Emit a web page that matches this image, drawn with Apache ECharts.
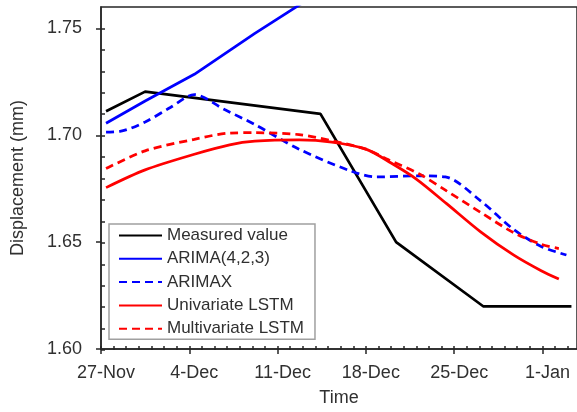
<!DOCTYPE html>
<html><head><meta charset="utf-8">
<script src="https://cdn.jsdelivr.net/npm/echarts@6/dist/echarts.min.js"></script>
<style>html,body{margin:0;padding:0;background:#fff}#c{width:577px;height:412px}</style>
</head><body><div id="c"></div>
<script>
// x = days since 27-Nov
const tickLabels = ["27-Nov","4-Dec","11-Dec","18-Dec","25-Dec","1-Jan"];
const majorDays = [0,7,14,21,28,35];
const minorDays = [0,1,2,3,4,5,6,7,8,9,10,11,12,13,14,15,16,17,18,19,20,21,22,23,24,25,26,27,28,29,30,31,32,33,34,35,36,37];
const yMajor = [1.60,1.65,1.70,1.75];
const yMinor = [1.60,1.61,1.62,1.63,1.64,1.65,1.66,1.67,1.68,1.69,1.70,1.71,1.72,1.73,1.74,1.75];
const seriesNames = ["Measured value","ARIMA(4,2,3)","ARIMAX","Univariate LSTM","Multivariate LSTM"];

const measured = [[0.4,1.7112],[3.5,1.7204],[17.4,1.7100],[23.4,1.6500],[30.3,1.6200],[37.3,1.6200]];
const arima = [[0.4,1.7056],[3.5,1.7160],[7.4,1.7285],[12.2,1.7477],[16,1.7620],[20,1.7760],[25,1.7900],[30,1.8000],[37,1.8100]];
const arimax = [[0.4,1.7015],[1.5,1.7018],[3.5,1.7062],[5.5,1.7130],[7.4,1.7190],[9.8,1.7120],[12.2,1.7050],[15.7,1.6935],[19.7,1.6835],[21.8,1.6805],[25.2,1.6810],[27.3,1.6805],[30.1,1.6693],[32.7,1.6560],[34.9,1.6480],[36.9,1.6440]];
const uniLstm = [[0.4,1.6755],[3.5,1.6838],[7.4,1.6911],[10.2,1.6955],[12.2,1.6972],[15.7,1.6978],[18.3,1.6968],[21.0,1.6935],[23.0,1.6870],[25.0,1.6795],[27.4,1.6680],[30.1,1.6548],[32.7,1.6440],[34.9,1.6366],[36.3,1.6327]];
const multiLstm = [[0.4,1.6844],[3.5,1.6927],[7.4,1.6981],[10.2,1.7010],[12.2,1.7012],[15.7,1.7003],[18.3,1.6974],[21.0,1.6935],[22.8,1.6885],[25.2,1.6820],[27.4,1.6740],[30.1,1.6639],[32.7,1.6545],[34.9,1.6490],[36.3,1.6470]];

const font = "'Liberation Sans', Arial, sans-serif";
const axisColor = '#262626';
const textColor = '#303030';
const gridRect = {left:101, top:7, right:-1, bottom:62};
const xMax = 37.74;

const chart = echarts.init(document.getElementById('c'), null, {renderer:'canvas'});
function line(name, data, color, dashed){
  const straight = name==='Measured value' || name==='ARIMA(4,2,3)';
  return {name, type:'line', data, xAxisIndex:0, yAxisIndex:0, symbol:'none',
    smooth: straight ? false : 0.3,
    clip:true, lineStyle:{color, width:2.75, type: dashed ? [8,5] : 'solid'}, itemStyle:{color}};
}
chart.setOption({
  animation:false,
  grid:[Object.assign({show:true, borderColor:axisColor, borderWidth:1.5, backgroundColor:'transparent'}, gridRect),
        Object.assign({show:false}, gridRect)],
  xAxis:[{
    type:'value', gridIndex:0, min:0, max:xMax,
    axisLine:{show:true, lineStyle:{color:axisColor, width:1.5}},
    axisTick:{show:true, inside:false, length:5, customValues:majorDays, lineStyle:{color:axisColor, width:1.5}},
    axisLabel:{customValues:majorDays, formatter:v=>tickLabels[Math.round(v/7)]||'', fontFamily:font, fontSize:18, color:textColor, margin:15, padding:[0,0,0,10]},
    splitLine:{show:false},
    name:'Time', nameLocation:'middle', nameGap:40, nameTextStyle:{fontFamily:font, fontSize:18, color:textColor}
  },{
    type:'value', gridIndex:1, min:0, max:xMax,
    axisLine:{show:false},
    axisTick:{show:true, inside:true, length:4, customValues:minorDays, lineStyle:{color:axisColor, width:1.5}},
    axisLabel:{show:false}, splitLine:{show:false}
  }],
  yAxis:[{
    type:'value', gridIndex:0, min:1.60, max:1.76,
    axisLine:{show:true, lineStyle:{color:axisColor, width:1.5}},
    axisTick:{show:true, inside:false, length:5, customValues:yMajor, lineStyle:{color:axisColor, width:1.5}},
    axisLabel:{customValues:yMajor, formatter:v=>v.toFixed(2), fontFamily:font, fontSize:18, color:textColor, margin:19},
    splitLine:{show:false},
    name:'Displacement (mm)', nameLocation:'middle', nameGap:74, nameRotate:90,
    nameTextStyle:{fontFamily:font, fontSize:18, color:textColor}
  },{
    type:'value', gridIndex:1, min:1.60, max:1.76,
    axisLine:{show:false},
    axisTick:{show:true, inside:true, length:4, customValues:yMinor, lineStyle:{color:axisColor, width:1.5}},
    axisLabel:{show:false}, splitLine:{show:false}
  }],
  legend:{
    data:seriesNames, orient:'vertical', left:109, top:224,
    itemWidth:43, itemHeight:14, itemGap:6.3,
    padding:[3,11,2,9], borderColor:'#a0a0a0', borderWidth:1.5, backgroundColor:'#fff',
    textStyle:{fontFamily:font, fontSize:17, color:textColor},
    itemStyle:{opacity:0}
  },
  series:[
    line(seriesNames[0], measured, '#000000', false),
    line(seriesNames[1], arima, '#0000ff', false),
    line(seriesNames[2], arimax, '#0000ff', true),
    line(seriesNames[3], uniLstm, '#ff0000', false),
    line(seriesNames[4], multiLstm, '#ff0000', true)
  ]
});
</script></body></html>
